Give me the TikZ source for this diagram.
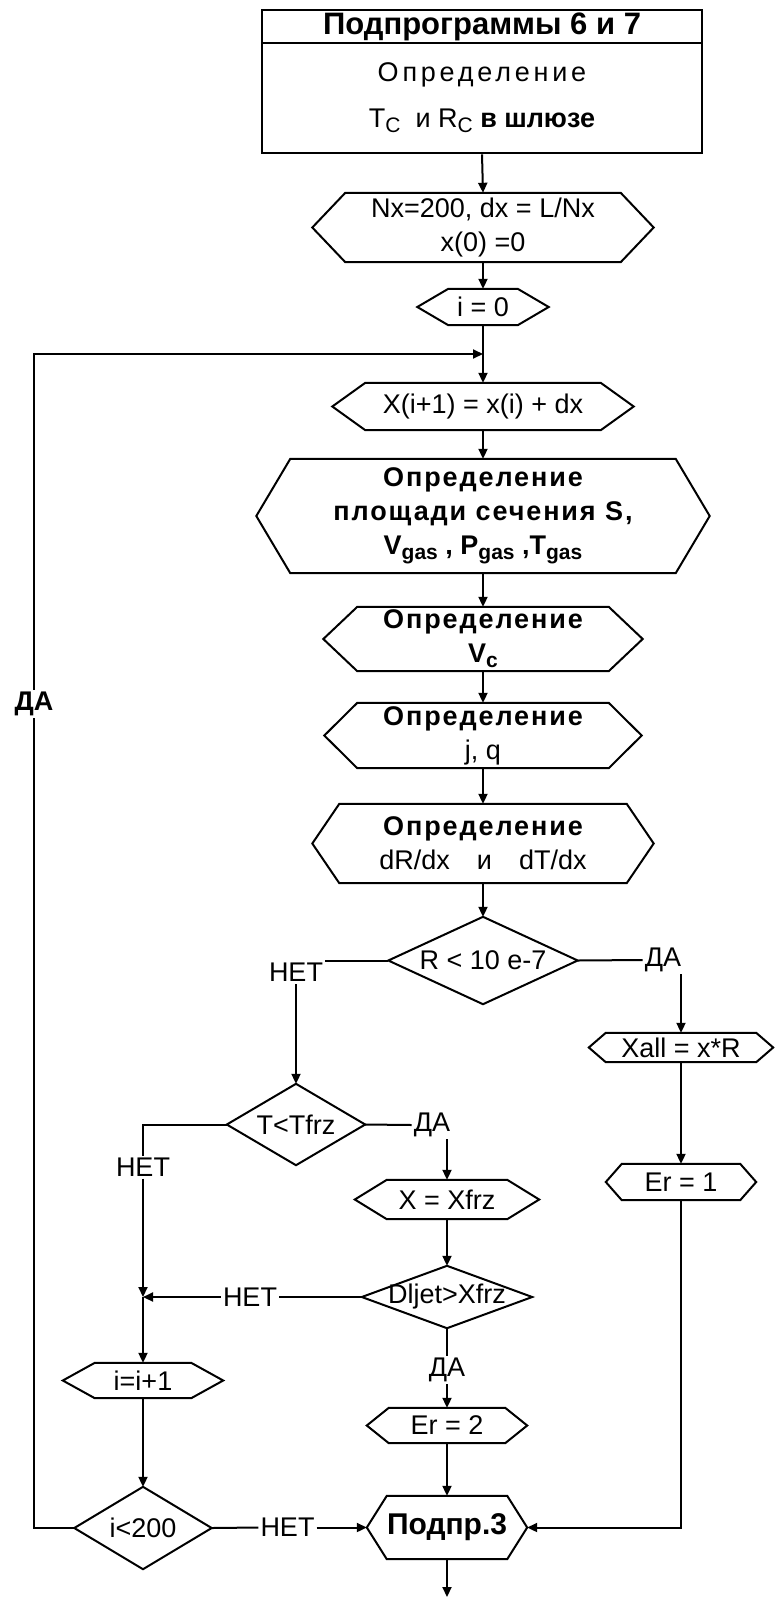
\documentclass[tikz,border=0pt]{standalone}
\usepackage{fontspec}
\setmainfont{Liberation Sans}
\usepackage{tikz}
\usetikzlibrary{
  arrows.meta,
}

\newcommand{\mainsize}{\fontsize{27}{34}\selectfont}
\newcommand{\opr}{{\bfseries\addfontfeatures{LetterSpace=7}Определение}}
\newcommand{\lowidx}[1]{\raisebox{-5pt}{\fontsize{21}{21}\selectfont #1}}

% outline of a hexagonal block round a named node
\newcommand{\hexout}[2]{%
  \coordinate (#1-w) at ([xshift=-#2]#1.west);
  \coordinate (#1-e) at ([xshift=#2]#1.east);
  \draw[outline] (#1.north west) -- (#1.north east) -- (#1-e)
    -- (#1.south east) -- (#1.south west) -- (#1-w) -- cycle;}
% outline of a decision diamond round a named node
\newcommand{\dmdout}[1]{%
  \draw[outline] (#1.north) -- (#1.east) -- (#1.south) -- (#1.west) -- cycle;}

\tikzset{
  conn/.style={line width=2pt},
  arr/.style={line width=2pt, -{Triangle[length=10pt,width=9pt]}},
  outline/.style={line width=2pt, line join=miter},
  headbox/.style={draw, line width=2.6pt, inner sep=0pt},
  hexbox/.style={inner sep=0pt},
  dmdbox/.style={inner sep=0pt},
  lbl/.style={inner sep=2pt},
}

\begin{document}
\begin{tikzpicture}[
  x=1pt, y=-1pt,
  font=\mainsize,
  every node/.style={align=center},
]
\useasboundingbox (0,0) rectangle (774,1598);

% header
\node[headbox, minimum width=440pt, minimum height=33pt] (head) at (482,26.5)
  {\fontsize{31}{36}\selectfont\bfseries Подпрограммы 6 и 7};
\node[headbox, minimum width=440pt, minimum height=110pt] (defTR) at (482,98)
  {{\addfontfeatures{LetterSpace=14}Определение}\\[12pt]
   T\lowidx{C}\ \ и R\lowidx{C} {\bfseries в шлюзе}};

% main column
\node[hexbox, minimum width=275pt, minimum height=69pt] (init) at (483,227.5)
  {Nx=200, dx = L/Nx\\x(0) =0};
\hexout{init}{33}
\node[hexbox, minimum width=69pt, minimum height=36pt] (izero) at (483,307) {i = 0};
\hexout{izero}{31}
\node[hexbox, minimum width=235pt, minimum height=47pt] (step) at (483,406.5)
  {X(i+1) = x(i) + dx};
\hexout{step}{33}
\node[hexbox, minimum width=385pt, minimum height=114pt] (area) at (483,516)
  {\opr\\
   {\bfseries\addfontfeatures{LetterSpace=7}площади сечения S,}\\
   {\bfseries V\lowidx{gas} , P\lowidx{gas} ,T\lowidx{gas}}};
\hexout{area}{34}
\node[hexbox, minimum width=251pt, minimum height=64pt] (defV) at (483,639)
  {\opr\\{\bfseries V\lowidx{c}}};
\hexout{defV}{34}
\node[hexbox, minimum width=251pt, minimum height=65pt] (defJ) at (483,735.5)
  {\opr\\j, q};
\hexout{defJ}{33}
\node[hexbox, minimum width=287pt, minimum height=79pt] (defD) at (483,843.5)
  {\opr\\dR/dx\quad и\quad dT/dx};
\hexout{defD}{27}
\node[dmdbox, minimum width=189pt, minimum height=87pt] (dR) at (483,960.5)
  {R < 10 e-7};
\dmdout{dR}

% right branch
\node[hexbox, minimum width=150pt, minimum height=29pt] (xall) at (681,1047.5)
  {Xall = x*R};
\hexout{xall}{17}
\node[hexbox, minimum width=118pt, minimum height=36pt] (er1) at (681,1182) {Er = 1};
\hexout{er1}{16}

% middle branch
\node[dmdbox, minimum width=138pt, minimum height=81pt] (dT) at (296,1124.5)
  {T<Tfrz};
\dmdout{dT}
\node[hexbox, minimum width=120pt, minimum height=39pt] (xfrz) at (447,1199.5)
  {X = Xfrz};
\hexout{xfrz}{32}
\node[dmdbox, minimum width=170pt, minimum height=62pt] (dJ) at (447,1297)
  {Dljet>Xfrz};
\dmdout{dJ}
\node[hexbox, minimum width=116pt, minimum height=35pt] (er2) at (447,1425.5)
  {Er = 2};
\hexout{er2}{22}
\node[hexbox, minimum width=106pt, minimum height=63pt] (p3) at (447,1527.5)
  {\fontsize{30}{36}\selectfont\bfseries Подпр.3};
\hexout{p3}{20}

% left branch
\node[hexbox, minimum width=96pt, minimum height=35pt] (inc) at (143,1380.5) {i=i+1};
\hexout{inc}{32}
\node[dmdbox, minimum width=137pt, minimum height=82pt] (dI) at (143,1528)
  {i<200};
\dmdout{dI}

% branch labels
\node[lbl] (noR) at (296,972.5) {НЕТ};
\node[lbl] (yesR) at (663,960) {ДА};
\node[lbl] (noT) at (143,1167) {НЕТ};
\node[lbl] (yesT) at (432,1125) {ДА};
\node[lbl] (noJ) at (250,1297) {НЕТ};
\node[lbl] (yesJ) at (447,1370) {ДА};
\node[lbl] (noI) at (287.5,1527.5) {НЕТ};

\coordinate (loopin) at (483,354);
\coordinate (backL) at (34,1528);
\coordinate (join) at (143,1297);
\coordinate (exit) at (447,1597);

% connectors
\draw[arr] (defTR.south) -- (init.north);
\draw[arr] (init.south) -- (izero.north);
\draw[arr] (izero.south) -- (step.north);
\draw[arr] (step.south) -- (area.north);
\draw[arr] (area.south) -- (defV.north);
\draw[arr] (defV.south) -- (defJ.north);
\draw[arr] (defJ.south) -- (defD.north);
\draw[arr] (defD.south) -- (dR.north);

\draw[conn] (dR.east) -- (yesR.west);
\draw[arr] (yesR.south -| xall.north) -- (xall.north);
\draw[arr] (xall.south) -- (er1.north);
\draw[arr] (er1.south) |- (p3-e);

\draw[conn] (dR.west) -- (dR.west -| noR.east);
\draw[arr] (noR.south) -- (dT.north);
\draw[conn] (dT.east) -- (yesT.west);
\draw[arr] (yesT.south -| xfrz.north) -- (xfrz.north);
\draw[arr] (xfrz.south) -- (dJ.north);
\draw[conn] (dJ.west) -- (noJ.east);
\draw[arr] (noJ.west) -- (join);
\draw[conn] (dJ.south) -- (yesJ.north);
\draw[arr] (yesJ.south) -- (er2.north);
\draw[arr] (er2.south) -- (p3.north);
\draw[arr] (p3.south) -- (exit);

\draw[conn] (dT.west) -| (noT.north);
\draw[arr] (noT.south) -- (join);
\draw[arr] (join) -- (inc.north);
\draw[arr] (inc.south) -- (dI.north);
\draw[conn] (dI.east) -- (noI.west);
\draw[arr] (noI.east) -- (p3-w);

\draw[arr] (dI.west) -- (backL) |- (loopin);
\node[lbl, fill=white, font=\mainsize\bfseries] (yesI) at (34,704) {ДА};

\end{tikzpicture}
\end{document}
